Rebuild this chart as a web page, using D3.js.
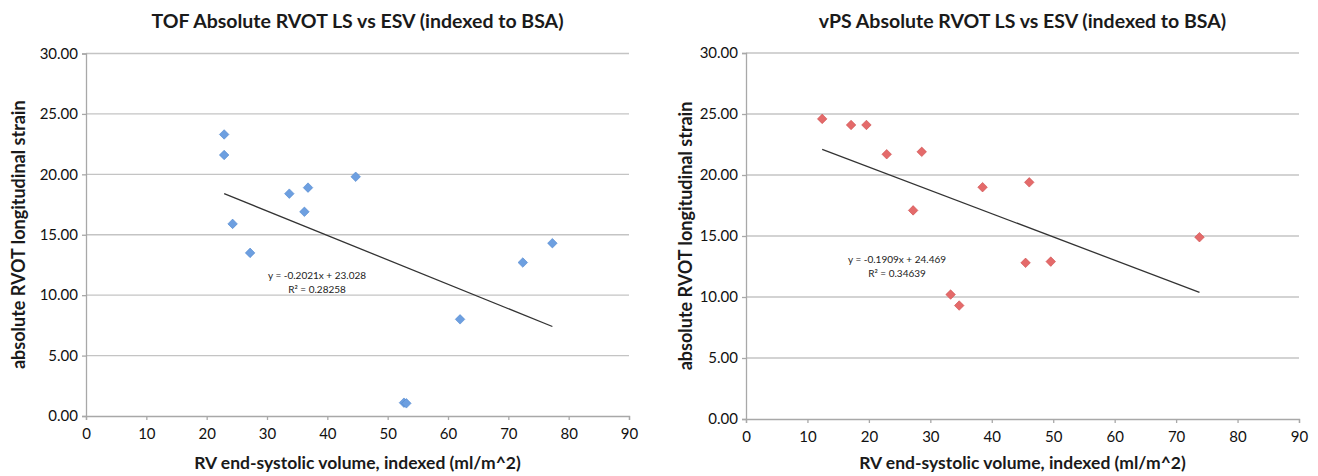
<!DOCTYPE html>
<html>
<head>
<meta charset="utf-8">
<script src="https://cdn.jsdelivr.net/npm/d3@7"></script>
<style>
  body { margin: 0; background: #fff; }
  svg { display: block; font-family: Lato, "Open Sans", sans-serif; }
</style>
</head>
<body>
<svg id="chart" width="1318" height="476"></svg>
<script>
// dados
const tofEsv = [22.9, 22.9, 44.7, 36.8, 33.7, 36.2, 24.3, 27.2, 77.3, 72.4, 62.0, 52.7, 53.1];
const tofLs  = [23.3, 21.6, 19.8, 18.9, 18.4, 16.9, 15.9, 13.5, 14.3, 12.7, 8.0, 1.1, 1.05];
const vpsEsv = [12.4, 17.1, 19.6, 22.9, 28.6, 27.2, 38.5, 33.3, 34.7, 46.1, 45.5, 49.6, 73.8];
const vpsLs  = [24.6, 24.1, 24.1, 21.7, 21.9, 17.1, 19.0, 10.2, 9.3, 19.4, 12.8, 12.9, 14.9];
const xTicks = [0, 10, 20, 30, 40, 50, 60, 70, 80, 90];
const yTicks = [0, 5, 10, 15, 20, 25, 30];
const titulos = ["TOF Absolute RVOT LS vs ESV (indexed to BSA)", "vPS Absolute RVOT LS vs ESV (indexed to BSA)"];
const trend = [
  {m: -0.2021, b: 23.028, r2: "0.28258"},
  {m: -0.1909, b: 24.469, r2: "0.34639"}
];
const eqPos = [[317, 279], [897, 263]]; // centro do texto da equação

const svg = d3.select("#chart");

const paineis = [
  {x: tofEsv, y: tofLs, cor: "#6d9fe0", borda: "#4f86cf", x0: 86, x1: 629, y0: 416, y1: 53.5, cx: 25},
  {x: vpsEsv, y: vpsLs, cor: "#e46a6a", borda: "#cc4c4c", x0: 746, x1: 1299, y0: 419, y1: 53, cx: 692}
];

paineis.forEach((p, i) => {
  const g = svg.append("g");
  const x = d3.scaleLinear().domain([0, 90]).range([p.x0, p.x1]);
  const y = d3.scaleLinear().domain([0, 30]).range([p.y0, p.y1]);

  // linhas de grade
  g.selectAll(".grid").data(yTicks.filter(t => t > 0)).join("line")
    .attr("x1", p.x0).attr("x2", p.x1)
    .attr("y1", d => y(d)).attr("y2", d => y(d))
    .attr("stroke", "#c4c4c4").attr("stroke-width", 1.3);

  // eixo y
  const ay = g.append("g").attr("transform", `translate(${p.x0},0)`)
    .call(d3.axisLeft(y).tickValues(yTicks).tickFormat(d3.format(".2f")).tickSize(4).tickPadding(4));
  // eixo x
  const ax = g.append("g").attr("transform", `translate(0,${p.y0})`)
    .call(d3.axisBottom(x).tickValues(xTicks).tickFormat(d3.format("d")).tickSize(4).tickPadding(8));
  [ay, ax].forEach(a => {
    a.select(".domain").attr("stroke", "#a8a8a8").attr("stroke-width", 1.3);
    a.selectAll(".tick line").attr("stroke", "#a8a8a8").attr("stroke-width", 1.3);
    a.selectAll("text").attr("fill", "#111").style("font-size", "15px").style("font-family", "Lato, sans-serif");
  });

  // linha de tendência
  const t = trend[i];
  const xmin = d3.min(p.x), xmax = d3.max(p.x);
  g.append("line")
    .attr("x1", x(xmin)).attr("y1", y(t.m * xmin + t.b))
    .attr("x2", x(xmax)).attr("y2", y(t.m * xmax + t.b))
    .attr("stroke", "#333").attr("stroke-width", 1.3);

  // pontos (losangos)
  const pts = p.x.map((v, k) => ({x: v, y: p.y[k]}));
  g.selectAll(".pt").data(pts).join("path")
    .attr("d", d3.symbol(d3.symbolDiamond2, 58))
    .attr("transform", d => `translate(${x(d.x)},${y(d.y)})`)
    .attr("fill", p.cor).attr("stroke", p.borda).attr("stroke-width", 0.6);

  // equação
  const eq = g.append("text")
    .attr("x", eqPos[i][0]).attr("y", eqPos[i][1])
    .attr("text-anchor", "middle").style("font-size", "10px").attr("fill", "#222");
  eq.append("tspan").attr("x", eqPos[i][0])
    .text(`y = ${t.m}x + ${t.b}`);
  eq.append("tspan").attr("x", eqPos[i][0]).attr("dy", 13.5)
    .text(`R² = ${t.r2}`);

  // títulos
  const cxPlot = (p.x0 + p.x1) / 2;
  g.append("text").attr("x", cxPlot).attr("y", 28)
    .attr("text-anchor", "middle").style("font-size", "19.5px").style("font-weight", "bold")
    .attr("fill", "#1a1a1a").text(titulos[i]);
  g.append("text").attr("x", cxPlot).attr("y", 469)
    .attr("text-anchor", "middle").style("font-size", "17.5px").style("font-weight", "bold")
    .attr("fill", "#1a1a1a").text("RV end-systolic volume, indexed (ml/m^2)");
  g.append("text")
    .attr("transform", `translate(${p.cx},${(p.y0 + p.y1) / 2}) rotate(-90)`)
    .attr("text-anchor", "middle").style("font-size", "18px").style("font-weight", "bold")
    .attr("fill", "#1a1a1a").text("absolute RVOT longitudinal strain");
});
</script>
</body>
</html>
